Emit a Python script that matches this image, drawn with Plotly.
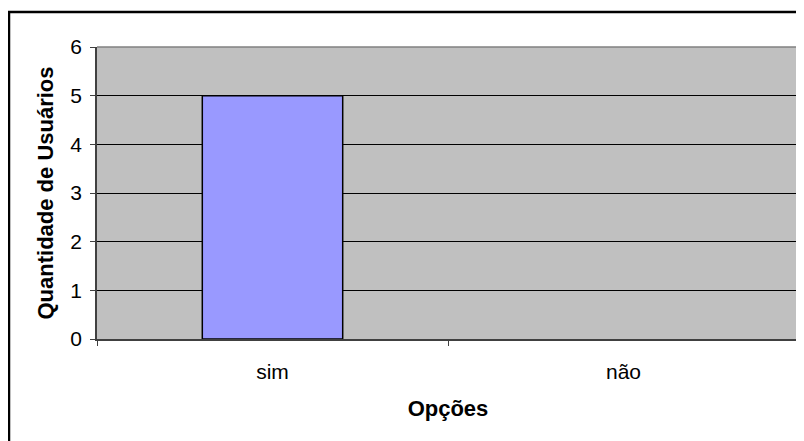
import plotly.graph_objects as go

# ---- data ------------------------------------------------------------
categories = ["sim", "não"]
users = [5, 0]
y_ticks = [0, 1, 2, 3, 4, 5, 6]

x_title = "Opções"
y_title = "Quantidade de Usuários"

# ---- layout constants (pixels) --------------------------------------
# the page body has an 8px margin, so the figure is a bit smaller
OFF = 8
W, H = 804 - OFF, 441 - OFF
L, R, T, B = 97 - OFF, 5, 47 - OFF, 102
pw, ph = W - L - R, H - T - B


def px_x(x):
    # page pixel -> paper coordinate
    return (x - OFF - L) / pw


def px_y(y):
    return (OFF + H - B - y) / ph


FONT = "Liberation Sans, Arial, sans-serif"

fig = go.Figure(
    go.Bar(
        x=categories,
        y=users,
        width=0.4,
        marker_color="#9999FF",
        marker_line_color="black",
        marker_line_width=[1.5 if v else 0 for v in users],
        showlegend=False,
    )
)

fig.update_xaxes(
    type="category",
    categoryorder="array",
    categoryarray=categories,
    tickson="boundaries",
    ticks="outside",
    ticklen=5,
    tickcolor="#404040",
    showline=True,
    linecolor="#404040",
    linewidth=1.5,
    showgrid=False,
    zeroline=False,
    tickfont=dict(family=FONT, size=21, color="black"),
    ticklabelstandoff=13,
    title=dict(text=f"<b>{x_title}</b>", font=dict(family=FONT, size=22, color="black"),
               standoff=19),
)

fig.update_yaxes(
    range=[0, 6],
    tickvals=y_ticks,
    ticks="outside",
    ticklen=5,
    tickcolor="#404040",
    showline=True,
    linecolor="#404040",
    linewidth=1.5,
    showgrid=True,
    gridcolor="black",
    gridwidth=1,
    zeroline=False,
    tickfont=dict(family=FONT, size=21, color="black"),
    ticklabelstandoff=4,
    title=dict(text=f"<b>{y_title}</b>", font=dict(family=FONT, size=22, color="black"),
               standoff=11),
)

shapes = [
    # plot area border (top & right)
    dict(type="line", xref="paper", yref="paper", x0=0, x1=1, y0=1, y1=1,
         line=dict(color="#808080", width=1.5), layer="above"),
    dict(type="line", xref="paper", yref="paper", x0=1, x1=1, y0=0, y1=1,
         line=dict(color="#808080", width=1.5), layer="above"),
    # outer chart border (right/bottom cut off by the picture edge)
    dict(type="rect", xref="paper", yref="paper",
         x0=px_x(9), x1=px_x(830), y0=px_y(470), y1=px_y(12),
         line=dict(color="black", width=2.5), layer="above"),
]

fig.update_layout(
    width=W,
    height=H,
    margin=dict(l=L, r=R, t=T, b=B),
    plot_bgcolor="#C0C0C0",
    paper_bgcolor="white",
    shapes=shapes,
    font=dict(family=FONT, color="black"),
)

fig.write_html("out.html")
